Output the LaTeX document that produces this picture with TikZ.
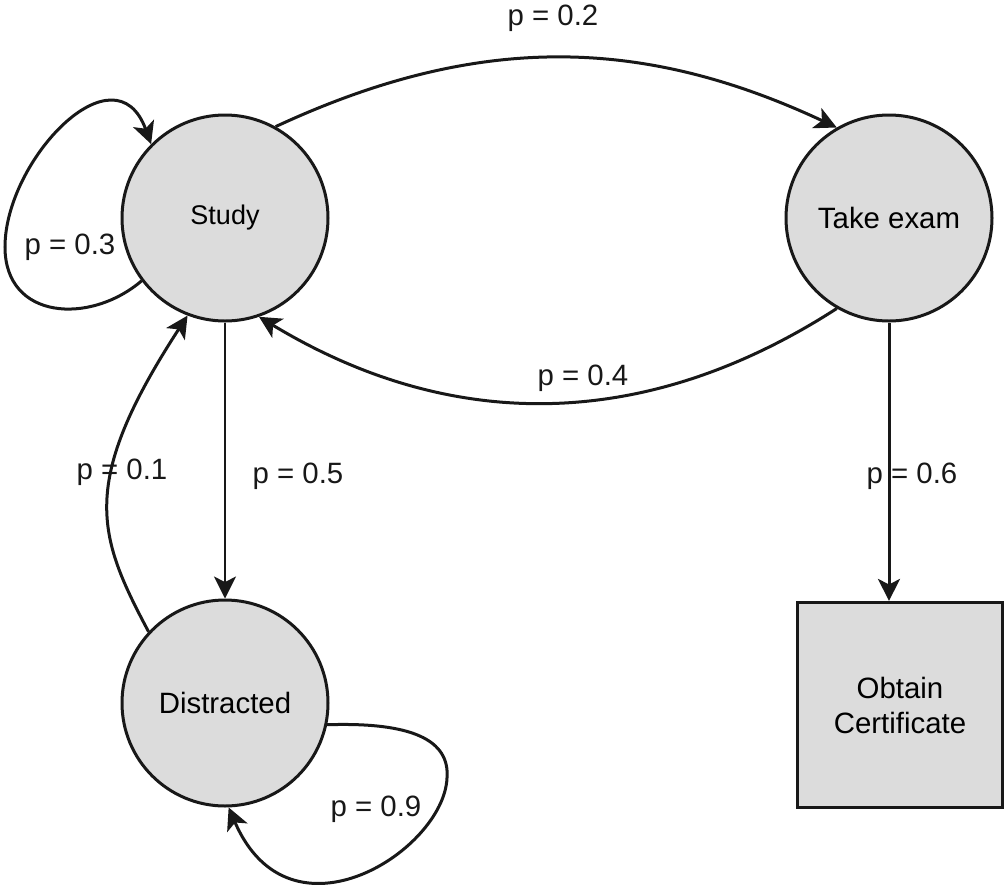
\documentclass[tikz,border=0pt]{standalone}
\usepackage{fontspec}
\setmainfont{Liberation Sans}
\usetikzlibrary{arrows.meta,positioning}
\definecolor{stfill}{RGB}{220,220,220}
\definecolor{ink}{RGB}{24,24,24}
\tikzset{st/.style={circle,draw=ink,fill=stfill,line width=1.5pt,minimum size=103pt,inner sep=0pt,font=\fontsize{14.7}{17}\selectfont},
         goal/.style={rectangle,draw=ink,fill=stfill,line width=1.6pt,minimum size=102.5pt,inner sep=0pt,align=center,font=\fontsize{14.7}{17.5}\selectfont},
         trans/.style={-{Stealth[length=11pt,width=11pt,inset=2.8pt]},draw=ink,line width=1.5pt},
         prob/.style={font=\fontsize{14.7}{17}\selectfont,text=ink,inner sep=0pt}
}

\begin{document}
\begin{tikzpicture}[x=0.5pt,y=0.5pt]
  \useasboundingbox (0,0) rectangle (1008,-885);
  % states
  \node[st] (study) at (225,-218) {\fontsize{13.5}{16}\selectfont Study};
  \node[st] (exam)  at (889,-218) {Take exam};
  \node[st] (distr) at (225,-703) {Distracted};
  \node[goal] (cert) at (900,-705) {Obtain\\Certificate};
  % transitions
  \draw[trans] (study.61) to[bend left=25] (exam.120);
  \draw[trans] (exam.240) to[bend left=32] (study.289);
  \draw[trans,line width=1.2pt] (study) -- (distr);
  \draw[trans] (distr.137) .. controls +(118:110) and +(237:200) .. (study.249);
  \draw[trans] (exam) -- (exam.south |- cert.north);
  % self loops
  \draw[trans] (study.217) .. controls (90,-325) and (5,-320) .. (5,-247)
               .. controls (5,-160) and (115,-45) .. (study.135);
  \draw[trans] (distr.348) .. controls (412,-722) and (450,-740) .. (447,-778)
               .. controls (444,-850) and (290,-950) .. (distr.272);
  % probabilities
  \node[prob] (p02) at (553,-18)  {p = 0.2};
  \node[prob] (p04) at (583,-378) {p = 0.4};
  \node[prob] (p05) at (298,-476) {p = 0.5};
  \node[prob] (p01) at (122,-472) {p = 0.1};
  \node[prob] (p03) at (70,-247)  {p = 0.3};
  \node[prob] (p06) at (912,-476) {p = 0.6};
  \node[prob] (p09) at (376,-809) {p = 0.9};
\end{tikzpicture}
\end{document}
